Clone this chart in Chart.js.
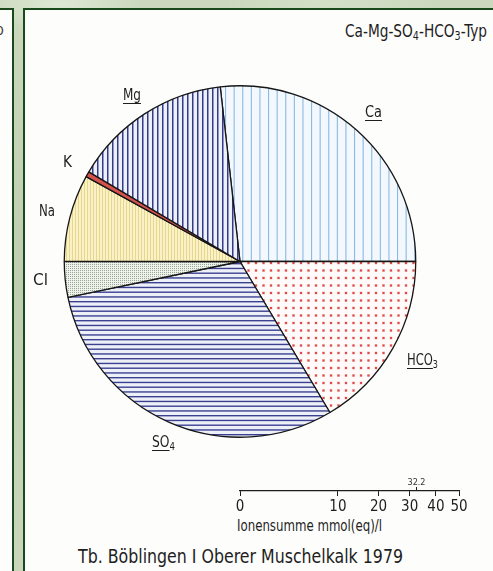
<!DOCTYPE html>
<html lang="de">
<head>
<meta charset="utf-8">
<title>Tb. Böblingen I Oberer Muschelkalk 1979</title>
<script src="https://cdn.jsdelivr.net/npm/chart.js@4.4.1/dist/chart.umd.min.js"></script>
<style>
  html, body { margin: 0; padding: 0; width: 493px; height: 571px; overflow: hidden; }
  body {
    position: relative;
    background-color: #c6d3b8;
    background-image:
      radial-gradient(ellipse 120px 40px at 60px 4px, rgba(230,238,222,0.7), rgba(230,238,222,0) 70%),
      radial-gradient(ellipse 160px 30px at 330px 3px, rgba(214,226,202,0.8), rgba(214,226,202,0) 70%),
      linear-gradient(180deg, #cbd8bd 0%, #bfcdb0 50%, #c9d6bb 100%);
    font-family: "Liberation Sans Narrow", "DejaVu Sans Condensed", "Liberation Sans", sans-serif;
    color: #1e1e1e;
  }
  .panel { position: absolute; background: #fdfdfc; border: 2px solid #1a4a1c; overflow: hidden; }
  #leftPanel { left: -2px; top: 8px; width: 12px; height: 620px; }
  #mainPanel { left: 23px; top: 8px; width: 520px; height: 620px; }
  .txt { position: absolute; white-space: nowrap; line-height: 1; transform-origin: 0 0; z-index: 3; }
  .u { text-decoration: underline; text-decoration-thickness: 1px; text-underline-offset: 3px; }
  sub { font-size: 70%; vertical-align: -0.28em; line-height: 0; }
  canvas { position: absolute; z-index: 2; }
  #leftText { position: absolute; right: 8px; top: 12px; font-size: 16px; line-height: 1; white-space: nowrap; color: #444; }
</style>
</head>
<body>
<div id="leftPanel" class="panel"><span id="leftText">-Typ</span></div>
<div id="mainPanel" class="panel"></div>

<canvas id="pie" width="380" height="379" style="left:50px; top:72px;"></canvas>
<canvas id="sumScale" width="290" height="60" style="left:200px; top:470px;"></canvas>

<div class="txt" data-w="142" style="left:345px; top:23px; font-size:17px;">Ca-Mg-SO<sub>4</sub>-HCO<sub>3</sub>-Typ</div>

<div class="txt" data-w="17" style="left:365px; top:105px; font-size:15px;"><span class="u">Ca</span></div>
<div class="txt" data-w="18" style="left:123px; top:88px; font-size:15px;"><span class="u">Mg</span></div>
<div class="txt" data-w="9" style="left:63px; top:154px; font-size:16px;">K</div>
<div class="txt" data-w="16" style="left:39px; top:203px; font-size:16px;">Na</div>
<div class="txt" data-w="15" style="left:33px; top:272px; font-size:16px;">Cl</div>
<div class="txt" data-w="31" style="left:407px; top:352px; font-size:16px;"><span class="u">HCO</span><sub>3</sub></div>
<div class="txt" data-w="23" style="left:152px; top:434px; font-size:16px;"><span class="u">SO</span><sub>4</sub></div>

<div class="txt" data-w="145" style="left:237px; top:518px; font-size:16px;">Ionensumme mmol(eq)/l</div>
<div class="txt" data-w="325" style="left:78px; top:546px; font-size:20px;">Tb. Böblingen I Oberer Muschelkalk 1979</div>

<script>
// Ion composition in mmol(eq)/l, listed clockwise starting with Ca
const ions = ['Ca', 'HCO3', 'SO4', 'Cl', 'Na', 'K', 'Mg'];
const meqValues = [8.63, 5.30, 9.75, 1.06, 2.58, 0.16, 4.73];
const ionSum = 32.2;
// Square-root scale for the ion sum
const sumTicks = [0, 10, 20, 30, 40, 50];
const sumMax = 50;

const FONT = '"Liberation Sans Narrow", "DejaVu Sans Condensed", "Liberation Sans", sans-serif';
const INK = '#1e1e1e';

// Stretch each label box to its intended width
function fitTexts() {
  document.querySelectorAll('.txt[data-w]').forEach(el => {
    el.style.transform = 'none';
    const w = el.getBoundingClientRect().width;
    const target = parseFloat(el.dataset.w);
    if (w > 0) el.style.transform = 'scaleX(' + (target / w).toFixed(4) + ')';
  });
}

// Marker for this sample's ion sum above the scale line
const sumMarker = {
  id: 'sumMarker',
  afterDraw(chart) {
    const sx = chart.scales.x;
    const x = Math.round(sx.getPixelForValue(Math.sqrt(ionSum))) + 0.5;
    const y = sx.top;
    const ctx = chart.ctx;
    ctx.save();
    ctx.strokeStyle = INK;
    ctx.lineWidth = 1;
    ctx.beginPath();
    ctx.moveTo(x, y - 4);
    ctx.lineTo(x, y);
    ctx.stroke();
    ctx.fillStyle = '#333';
    ctx.font = '9px ' + FONT;
    ctx.textAlign = 'center';
    ctx.textBaseline = 'alphabetic';
    ctx.fillText(String(ionSum), x, y - 6);
    ctx.restore();
  }
};

function buildCharts() {
  const scaleCanvas = document.getElementById('sumScale');
  const scaleChart = new Chart(scaleCanvas, {
    type: 'scatter',
    data: { datasets: [] },
    options: {
      responsive: false,
      animation: false,
      events: [],
      layout: { padding: { left: 40, right: 31, top: 20, bottom: 0 } },
      plugins: { legend: { display: false }, tooltip: { enabled: false } },
      scales: {
        x: {
          type: 'linear',
          position: 'bottom',
          min: 0,
          max: Math.sqrt(sumMax),
          afterBuildTicks(axis) {
            axis.ticks = sumTicks.map(v => ({ value: Math.sqrt(v) }));
          },
          ticks: {
            callback: v => String(Math.round(v * v)),
            font: { family: FONT, size: 15 },
            color: INK,
            padding: 2,
            maxRotation: 0,
            autoSkip: false
          },
          grid: { drawOnChartArea: false, drawTicks: true, tickLength: 5, color: INK, lineWidth: 1 },
          border: { display: true, color: INK, width: 1.2 }
        },
        y: { display: false, min: 0, max: 1 }
      }
    },
    plugins: [sumMarker]
  });

  // Put the scale line at its place on the page
  const sx = scaleChart.scales.x;
  scaleCanvas.style.left = (240 - sx.left) + 'px';
  scaleCanvas.style.top = (491 - sx.top) + 'px';

  // Pie radius follows the square root of the ion sum on the same scale
  const radius = sx.getPixelForValue(Math.sqrt(ionSum)) - sx.getPixelForValue(0);

  const pieCanvas = document.getElementById('pie');
  const pctx = pieCanvas.getContext('2d');
  function tile(w, h, draw) {
    const c = document.createElement('canvas');
    c.width = w; c.height = h;
    draw(c.getContext('2d'), w, h);
    return pctx.createPattern(c, 'repeat');
  }

  const fills = {
    Ca: tile(43, 4, (g, w, h) => {
      g.fillStyle = '#f2f8fd'; g.fillRect(0, 0, w, h);
      g.fillStyle = '#8dbade';
      for (let i = 0; i < 5; i++) g.fillRect(i * 8.6 + 3, 0, 1.1, h);
    }),
    HCO3: tile(15, 15, (g, w, h) => {
      g.fillStyle = '#fffbfa'; g.fillRect(0, 0, w, h);
      g.fillStyle = 'rgba(240,170,160,0.6)';
      for (let i = 0; i < 2; i++) for (let j = 0; j < 2; j++) g.fillRect(i * 7.5 + 2, j * 7.5 + 2, 3, 3);
      g.fillStyle = '#e0484a';
      for (let i = 0; i < 2; i++) for (let j = 0; j < 2; j++) g.fillRect(i * 7.5 + 2.5, j * 7.5 + 2.5, 2, 2);
    }),
    SO4: tile(4, 19, (g, w, h) => {
      g.fillStyle = '#eef0f8'; g.fillRect(0, 0, w, h);
      g.fillStyle = '#3b4190';
      for (let i = 0; i < 4; i++) g.fillRect(0, i * 4.75 + 1, w, 1.4);
    }),
    Cl: tile(2, 2, (g, w, h) => {
      g.fillStyle = '#edf2ea'; g.fillRect(0, 0, w, h);
      g.fillStyle = '#9aa597'; g.fillRect(0, 0, 1, 1);
    }),
    Na: tile(3, 4, (g, w, h) => {
      g.fillStyle = '#faf2c6'; g.fillRect(0, 0, w, h);
      g.fillStyle = '#e6d78f'; g.fillRect(1, 0, 1, h);
    }),
    K: '#d5524e',
    Mg: tile(5, 4, (g, w, h) => {
      g.fillStyle = '#eef0f8'; g.fillRect(0, 0, w, h);
      g.fillStyle = '#353b8c'; g.fillRect(2, 0, 1.5, h);
    })
  };

  const total = meqValues.reduce((a, b) => a + b, 0);
  new Chart(pieCanvas, {
    type: 'pie',
    data: {
      labels: ions,
      datasets: [{
        data: meqValues,
        backgroundColor: ions.map(n => fills[n]),
        borderColor: '#161616',
        borderWidth: 1.3
      }]
    },
    options: {
      responsive: false,
      animation: false,
      events: [],
      radius: radius,
      // Ca ends at the horizontal line on the right
      rotation: 90 - meqValues[0] / total * 360,
      layout: { padding: 0 },
      plugins: { legend: { display: false }, tooltip: { enabled: false } }
    }
  });
}

function start() {
  fitTexts();
  buildCharts();
}
if (document.fonts && document.fonts.ready) {
  document.fonts.ready.then(start);
} else {
  window.addEventListener('load', start);
}
</script>
</body>
</html>
